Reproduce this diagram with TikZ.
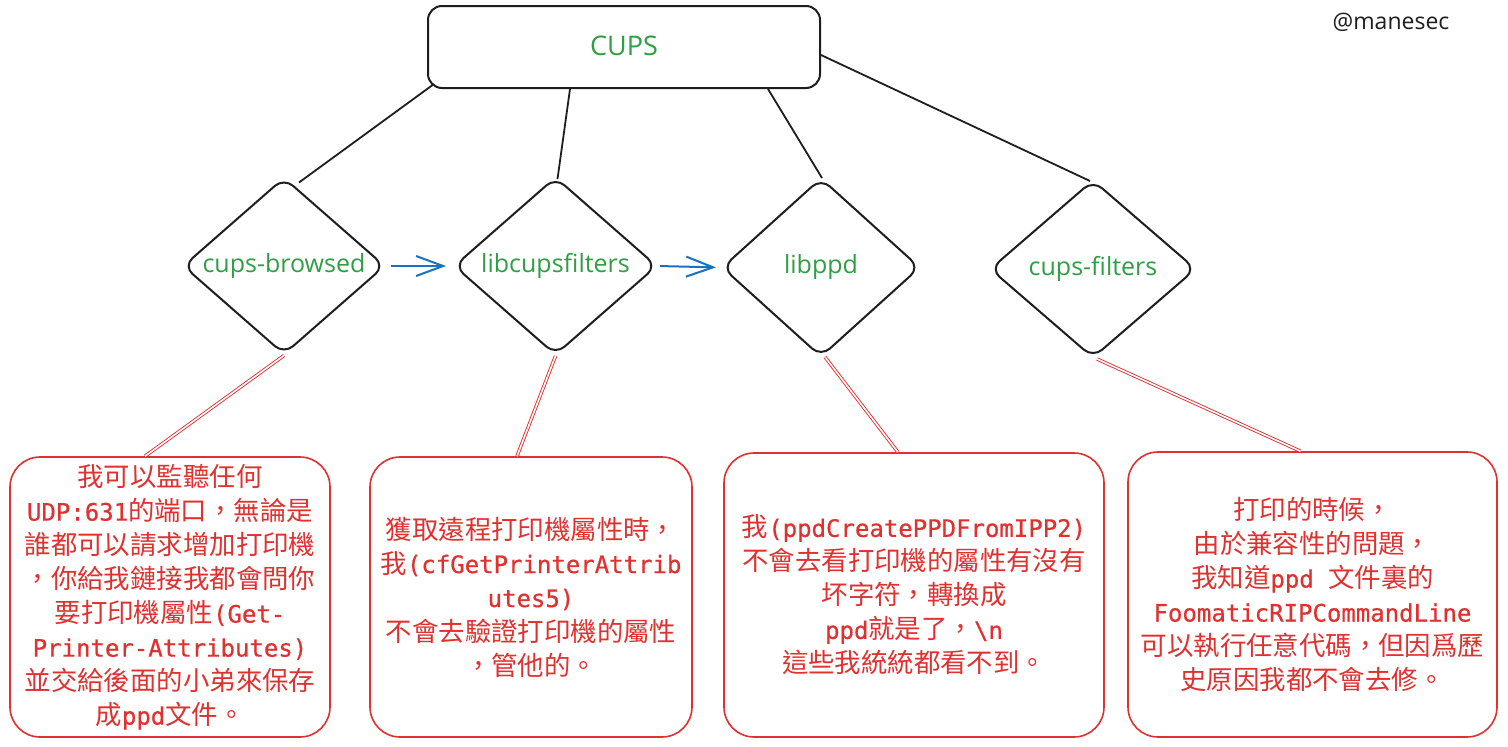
\documentclass[tikz,border=0pt]{standalone}
\usepackage{fontspec}
\usetikzlibrary{shapes.geometric,arrows.meta,calc}
\newfontfamily\cjk{Noto Sans CJK TC}[Scale=1.1]
\newfontfamily\mono{DejaVu Sans Mono}[FakeBold=0.6]
\newfontfamily\labfont{Open Sans}
\newcommand\cj[1]{{\cjk #1}}
\definecolor{exgreen}{HTML}{2F9E44}
\definecolor{exred}{HTML}{E03131}
\definecolor{exblue}{HTML}{1971C2}
\definecolor{exblack}{HTML}{1E1E1E}
\tikzset{
  topbox/.style={draw=exblack, line width=2pt, rounded corners=14pt, minimum width=392pt, minimum height=82pt, inner sep=0pt},
  dia/.style={diamond, draw=exblack, line width=2pt, rounded corners=12pt, inner sep=0pt},
  lab/.style={text=exgreen, font=\labfont\fontsize{25}{30}\selectfont},
  note/.style={draw=exred, line width=1.6pt, rounded corners=30pt, text=exred, align=center, inner sep=0pt, font=\mono\fontsize{24}{34}\selectfont},
  tree/.style={draw=exblack, line width=1.8pt},
  redline/.style={draw=exred, line width=0.9pt, double=white, double distance=1.6pt},
  arr/.style={draw=exblue, line width=2pt, -{Straight Barb[length=27pt,width=20pt]}},
}
\begin{document}
\begin{tikzpicture}[x=1pt,y=-1pt]
\useasboundingbox (0,0) rectangle (1508,747);
\fill[white] (0,0) rectangle (1508,747);

% top box
\node[topbox] (cups) at (624,47) {};
\node[lab, font=\labfont\fontsize{27}{30}\selectfont] (cupsl) at (624,46) {CUPS};
\node[text=exblack, font=\labfont\fontsize{23}{26}\selectfont] (sig) at (1391,22) {@manesec};

% diamonds
\node[dia, minimum width=202pt, minimum height=177pt] (cb) at (284,266) {};
\node[dia, minimum width=203pt, minimum height=178pt] (lcf) at (555.5,266) {};
\node[dia, minimum width=198pt, minimum height=179pt] (lp) at (821,267.5) {};
\node[dia, minimum width=206pt, minimum height=178pt] (cf) at (1093,269) {};
\node[lab] (cbl) at (cb) {cups-browsed};
\node[lab] (lcfl) at (lcf) {libcupsfilters};
\node[lab] (lpl) at (lp) {libppd};
\node[lab] (cfl) at (cf) {cups-filters};

% notes
\node[note, minimum width=320pt, minimum height=280pt] (n1) at (170,597) {%
\cj{我可以監聽任何}\\
UDP:631\cj{的端口，無論是}\\
\cj{誰都可以請求增加打印機}\\
\cj{，你給我鏈接我都會問你}\\
\cj{要打印機屬性}(Get-\\
Printer-Attributes)\\
\cj{並交給後面的小弟來保存}\\
\cj{成}ppd\cj{文件。}};
\node[note, minimum width=322pt, minimum height=280pt] (n2) at (531,597) {%
\cj{獲取遠程打印機屬性時，}\\
\cj{我}(cfGetPrinterAttrib\\
utes5)\\
\cj{不會去驗證打印機的屬性}\\
\cj{，管他的。}};
\node[note, minimum width=380pt, minimum height=284pt] (n3) at (914,595) {%
\cj{我}(ppdCreatePPDFromIPP2)\\
\cj{不會去看打印機的屬性有沒有}\\
\cj{坏字符，轉換成}\\
ppd\cj{就是了，}\textbackslash n\\
\cj{這些我統統都看不到。}};
\node[note, minimum width=369pt, minimum height=285pt] (n4) at (1312.5,594.5) {%
\cj{打印的時候，}\\
\cj{由於兼容性的問題，}\\
\cj{我知道}ppd \cj{文件裏的}\\
FoomaticRIPCommandLine\\
\cj{可以執行任意代碼，但因爲歷}\\
\cj{史原因我都不會去修。}};

% tree connectors
\draw[tree] ($(cups.south west)+(7,-5)$) -- ($(cb.north)+(15,6)$);
\draw[tree] ($(cups.south)+(-54,0)$) -- ($(lcf.north)+(2,3)$);
\draw[tree] ($(cups.south)+(144,0)$) -- ($(lp.north)+(1,1)$);
\draw[tree] ($(cups.east)+(0,8)$) -- ($(cf.north)+(-3,2)$);

% flow arrows
\draw[arr, shorten <=5pt, shorten >=7pt] (cb.east) -- (lcf.west);
\draw[arr, shorten <=2pt, shorten >=5pt] (lcf.east) -- (lp.west);

% red connectors
\draw[redline] (cb.south) -- ($(n1.north)+(-25,0)$);
\draw[redline] (lcf.south) -- ($(n2.north)+(-14,0)$);
\draw[redline] ($(lp.south)+(4,-1)$) -- ($(n3.north)+(-16,0)$);
\draw[redline] ($(cf.south)+(4,0)$) -- ($(n4.north)+(-12,0)$);
\end{tikzpicture}
\end{document}
